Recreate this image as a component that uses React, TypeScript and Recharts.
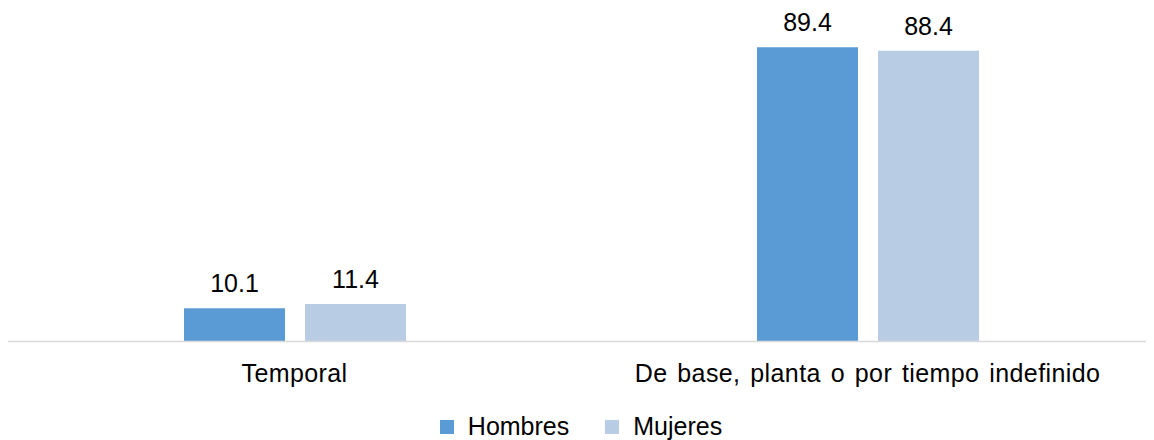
import React from "react";
import { BarChart, Bar, XAxis, YAxis, Legend, LabelList } from "recharts";

const categories = ["Temporal", "De base, planta o por tiempo indefinido"];
const hombres = [10.1, 89.4];
const mujeres = [11.4, 88.4];

const data = categories.map((name, i) => ({ name, Hombres: hombres[i], Mujeres: mujeres[i] }));

const FONT = "'Liberation Sans', Arial, sans-serif";
const COLORS = { Hombres: "#5B9BD5", Mujeres: "#B8CCE4" };

function LegendBox() {
  return (
    <div style={{ display: "flex", justifyContent: "center", alignItems: "center", height: 30, paddingTop: 3, boxSizing: "border-box", fontFamily: FONT, fontSize: 25, color: "#000" }}>
      {(["Hombres", "Mujeres"] as const).map((k) => (
        <div key={k} style={{ display: "flex", alignItems: "center", margin: "0 18px" }}>
          <span style={{ width: 14, height: 14, background: COLORS[k], display: "inline-block", marginRight: 14 }} />
          <span>{k}</span>
        </div>
      ))}
    </div>
  );
}

export default function App() {
  return (
    <BarChart width={1146} height={432} data={data} barGap={20} margin={{ top: 4.5, right: 0, bottom: 0, left: 0 }}>
      <YAxis hide domain={[0, 100]} />
      <XAxis dataKey="name" axisLine={{ stroke: "#d9d9d9", strokeWidth: 1.5 }} tickLine={false} tickSize={0} tickMargin={23}
        height={68.5} interval={0}
        tick={{ fontSize: 25, fontFamily: FONT, fill: "#000", letterSpacing: 0.4, wordSpacing: 2.5 } as any} />
      <Legend verticalAlign="bottom" content={() => <LegendBox />} />
      <Bar dataKey="Hombres" fill={COLORS.Hombres} barSize={101} isAnimationActive={false}>
        <LabelList dataKey="Hombres" position="top" offset={16} style={{ fontSize: 25, fontFamily: FONT, fill: "#000" }} />
      </Bar>
      <Bar dataKey="Mujeres" fill={COLORS.Mujeres} barSize={101} isAnimationActive={false}>
        <LabelList dataKey="Mujeres" position="top" offset={16} style={{ fontSize: 25, fontFamily: FONT, fill: "#000" }} />
      </Bar>
    </BarChart>
  );
}
